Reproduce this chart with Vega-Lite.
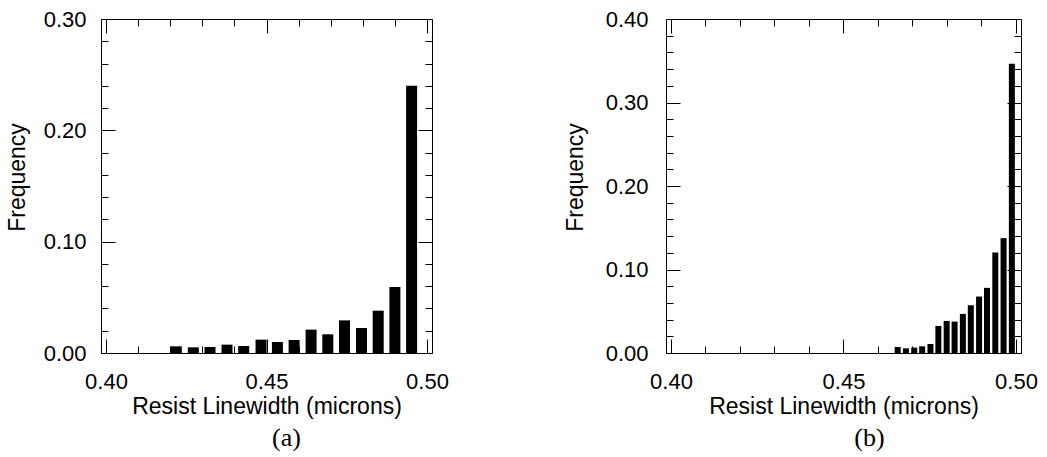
{
  "$schema": "https://vega.github.io/schema/vega-lite/v6.json",
  "padding": {"left": 6, "top": 8, "right": 0, "bottom": 0},
  "background": "white",
  "spacing": 234,
  "bounds": "flush",
  "config": {
    "view": {"stroke": null},
    "axis": {
      "labelFont": "Liberation Sans",
      "titleFont": "Liberation Sans",
      "labelFontSize": 22,
      "titleFontSize": 23,
      "titleFontWeight": "normal",
      "labelColor": "black",
      "titleColor": "black",
      "domainColor": "black",
      "tickColor": "black",
      "domainWidth": 1,
      "tickWidth": 1,
      "grid": false,
      "labelOverlap": false,
      "labelFlush": false
    },
    "title": {"font": "Liberation Serif", "fontSize": 26, "fontWeight": "normal", "color": "black"}
  },
  "datasets": {
    "a": [
      {"w": 0.4219, "f": 0.0060},
      {"w": 0.4272, "f": 0.0051},
      {"w": 0.4324, "f": 0.0054},
      {"w": 0.4377, "f": 0.0075},
      {"w": 0.4429, "f": 0.0063},
      {"w": 0.4483, "f": 0.0120},
      {"w": 0.4534, "f": 0.0099},
      {"w": 0.4586, "f": 0.0117},
      {"w": 0.4639, "f": 0.0210},
      {"w": 0.4691, "f": 0.0168},
      {"w": 0.4743, "f": 0.0293},
      {"w": 0.4796, "f": 0.0225},
      {"w": 0.4848, "f": 0.0380},
      {"w": 0.4900, "f": 0.0593},
      {"w": 0.4952, "f": 0.2400}
    ],
    "b": [
      {"w": 0.4657, "f": 0.0072},
      {"w": 0.4681, "f": 0.0056},
      {"w": 0.4705, "f": 0.0064},
      {"w": 0.4728, "f": 0.0080},
      {"w": 0.4752, "f": 0.0108},
      {"w": 0.4775, "f": 0.0324},
      {"w": 0.4799, "f": 0.0384},
      {"w": 0.4822, "f": 0.0376},
      {"w": 0.4846, "f": 0.0468},
      {"w": 0.4869, "f": 0.0572},
      {"w": 0.4893, "f": 0.0676},
      {"w": 0.4916, "f": 0.0780},
      {"w": 0.4940, "f": 0.1204},
      {"w": 0.4964, "f": 0.1376},
      {"w": 0.4988, "f": 0.3464}
    ]
  },
  "hconcat": [
    {
      "width": 331,
      "height": 334,
      "title": {"text": "(a)", "orient": "bottom", "dx": 20, "offset": 7},
      "data": {"name": "a"},
      "resolve": {"axis": {"x": "independent", "y": "independent"}},
      "layer": [
        {
          "mark": {"type": "bar", "color": "black", "size": 11, "orient": "vertical"},
          "encoding": {
            "x": {"field": "w", "type": "quantitative",
              "scale": {"domain": [0.4, 0.5], "nice": false, "zero": false},
              "axis": {"orient": "bottom", "title": "Resist Linewidth (microns)",
                "values": [0.40,0.41,0.42,0.43,0.44,0.45,0.46,0.47,0.48,0.49,0.50],
                "tickSize": {"condition": {"test": "abs(datum.value*20 - round(datum.value*20)) < 0.001", "value": -14}, "value": -7},
                "labelExpr": "abs(datum.value*20 - round(datum.value*20)) < 0.001 ? format(datum.value, '.2f') : ''",
                "labelPadding": 32, "titleY": 60, "titleBaseline": "alphabetic"}},
            "y": {"field": "f", "type": "quantitative",
              "scale": {"domain": [0, 0.3], "nice": false},
              "axis": {"orient": "left", "title": "Frequency",
                "values": [0,0.02,0.04,0.06,0.08,0.1,0.12,0.14,0.16,0.18,0.2,0.22,0.24,0.26,0.28,0.3],
                "tickSize": {"condition": {"test": "abs(datum.value*10 - round(datum.value*10)) < 0.001", "value": -14}, "value": -7},
                "labelExpr": "abs(datum.value*10 - round(datum.value*10)) < 0.001 ? format(datum.value, '.2f') : ''",
                "labelPadding": 29, "titleX": -77, "titleY": 158, "titleBaseline": "alphabetic", "titleAngle": -90}}
          }
        },
        {
          "mark": {"type": "bar", "color": "black", "size": 11, "opacity": 0},
          "encoding": {
            "x": {"field": "w", "type": "quantitative",
              "axis": {"orient": "top", "title": null, "labels": false,
                "values": [0.40,0.41,0.42,0.43,0.44,0.45,0.46,0.47,0.48,0.49,0.50],
                "tickSize": {"condition": {"test": "abs(datum.value*20 - round(datum.value*20)) < 0.001", "value": -14}, "value": -7}}},
            "y": {"field": "f", "type": "quantitative",
              "axis": {"orient": "right", "title": null, "labels": false,
                "values": [0,0.02,0.04,0.06,0.08,0.1,0.12,0.14,0.16,0.18,0.2,0.22,0.24,0.26,0.28,0.3],
                "tickSize": {"condition": {"test": "abs(datum.value*10 - round(datum.value*10)) < 0.001", "value": -14}, "value": -7}}}
          }
        }
      ]
    },
    {
      "width": 355,
      "height": 334,
      "title": {"text": "(b)", "orient": "bottom", "dx": 26, "offset": 7},
      "data": {"name": "b"},
      "resolve": {"axis": {"x": "independent", "y": "independent"}},
      "layer": [
        {
          "mark": {"type": "bar", "color": "black", "size": 6, "orient": "vertical"},
          "encoding": {
            "x": {"field": "w", "type": "quantitative",
              "scale": {"domain": [0.4, 0.5], "nice": false, "zero": false},
              "axis": {"orient": "bottom", "title": "Resist Linewidth (microns)",
                "values": [0.40,0.41,0.42,0.43,0.44,0.45,0.46,0.47,0.48,0.49,0.50],
                "tickSize": {"condition": {"test": "abs(datum.value*20 - round(datum.value*20)) < 0.001", "value": -14}, "value": -7},
                "labelExpr": "abs(datum.value*20 - round(datum.value*20)) < 0.001 ? format(datum.value, '.2f') : ''",
                "labelPadding": 32, "titleY": 60, "titleBaseline": "alphabetic"}},
            "y": {"field": "f", "type": "quantitative",
              "scale": {"domain": [0, 0.4], "nice": false},
              "axis": {"orient": "left", "title": "Frequency",
                "values": [0,0.02,0.04,0.06,0.08,0.1,0.12,0.14,0.16,0.18,0.2,0.22,0.24,0.26,0.28,0.3,0.32,0.34,0.36,0.38,0.4],
                "tickSize": {"condition": {"test": "abs(datum.value*10 - round(datum.value*10)) < 0.001", "value": -14}, "value": -7},
                "labelExpr": "abs(datum.value*10 - round(datum.value*10)) < 0.001 ? format(datum.value, '.2f') : ''",
                "labelPadding": 32, "titleX": -84, "titleY": 158, "titleBaseline": "alphabetic", "titleAngle": -90}}
          }
        },
        {
          "mark": {"type": "bar", "color": "black", "size": 6, "opacity": 0},
          "encoding": {
            "x": {"field": "w", "type": "quantitative",
              "axis": {"orient": "top", "title": null, "labels": false,
                "values": [0.40,0.41,0.42,0.43,0.44,0.45,0.46,0.47,0.48,0.49,0.50],
                "tickSize": {"condition": {"test": "abs(datum.value*20 - round(datum.value*20)) < 0.001", "value": -14}, "value": -7}}},
            "y": {"field": "f", "type": "quantitative",
              "axis": {"orient": "right", "title": null, "labels": false,
                "values": [0,0.02,0.04,0.06,0.08,0.1,0.12,0.14,0.16,0.18,0.2,0.22,0.24,0.26,0.28,0.3,0.32,0.34,0.36,0.38,0.4],
                "tickSize": {"condition": {"test": "abs(datum.value*10 - round(datum.value*10)) < 0.001", "value": -14}, "value": -7}}}
          }
        }
      ]
    }
  ]
}
